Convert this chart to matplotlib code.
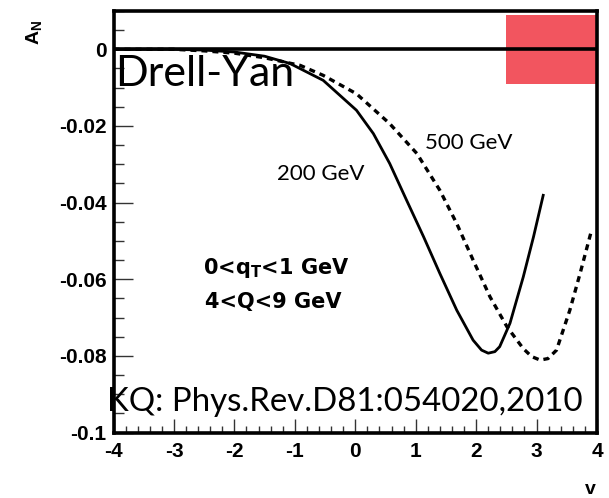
import matplotlib
matplotlib.use("Agg")
import matplotlib.pyplot as plt
from matplotlib.ticker import MultipleLocator
from matplotlib.patches import Rectangle

# A_N versus rapidity y for the two energies
v_200 = [-4.0, -3.0, -2.5, -2.0, -1.5, -1.08, -0.53, 0.02, 0.30, 0.57, 0.85, 1.13,
         1.40, 1.68, 1.95, 2.09, 2.20, 2.31, 2.39, 2.56, 2.78, 2.95, 3.11]
an_200 = [0.0, 0.0, -0.0002, -0.0007, -0.0018, -0.0037, -0.0081, -0.0159, -0.0220,
          -0.0298, -0.0394, -0.0489, -0.0585, -0.0681, -0.0759, -0.0785, -0.0793,
          -0.0789, -0.0776, -0.0715, -0.0594, -0.0489, -0.0381]

v_500 = [-4.0, -3.0, -2.5, -2.0, -1.5, -0.91, -0.53, 0.02, 0.57, 1.02, 1.40, 1.68,
         1.95, 2.23, 2.51, 2.78, 2.92, 3.06, 3.19, 3.33, 3.55, 3.72, 3.91]
an_500 = [0.0, 0.0, -0.0004, -0.0010, -0.0022, -0.0042, -0.0068, -0.0116, -0.0194,
          -0.0272, -0.0368, -0.0455, -0.0550, -0.0646, -0.0724, -0.0781, -0.0802,
          -0.0811, -0.0807, -0.0785, -0.0681, -0.0585, -0.0472]

x_ticks = [-4, -3, -2, -1, 0, 1, 2, 3, 4]
y_ticks = [0, -0.02, -0.04, -0.06, -0.08, -0.1]
y_labels = ["0", "-0.02", "-0.04", "-0.06", "-0.08", "-0.1"]

# measured region box
box_v = (2.5, 4.0)
box_an = (-0.009, 0.009)

fig = plt.figure(figsize=(6.09, 4.98), dpi=100)
ax = fig.add_axes([113.5 / 609, 1 - 432.5 / 498, (597 - 113.5) / 609, (432.5 - 11) / 498])
ax.set_xlim(-4, 4)
ax.set_ylim(-0.1, 0.01)

ax.add_patch(Rectangle((box_v[0], box_an[0]), box_v[1] - box_v[0], box_an[1] - box_an[0],
                       facecolor="#f2555f", edgecolor="none", zorder=1))
ax.axhline(0, color="black", lw=2.6, zorder=3)

ax.plot(v_200, an_200, color="black", lw=2.0, solid_joinstyle="round", zorder=4)
ax.plot(v_500, an_500, color="black", lw=2.4, linestyle=(0, (1.8, 1.5)), zorder=4)

for s in ax.spines.values():
    s.set_linewidth(2.6)

tick_font = dict(family="Liberation Sans", weight="bold", size=15)
ax.set_xticks(x_ticks)
ax.set_xticklabels([str(t) for t in x_ticks], **tick_font)
ax.set_yticks(y_ticks)
ax.set_yticklabels(y_labels, **tick_font)
ax.xaxis.set_minor_locator(MultipleLocator(0.2))
ax.yaxis.set_minor_locator(MultipleLocator(0.005))
ax.tick_params(which="both", direction="in", top=False, right=False, width=1.0, color="#333333")
ax.tick_params(axis="x", which="major", length=10, pad=7)
ax.tick_params(axis="x", which="minor", length=5)
ax.tick_params(axis="y", which="major", length=14, pad=5)
ax.tick_params(axis="y", which="minor", length=7)

fig.text(35 / 609, 1 - 32 / 498, r"A$_\mathregular{N}$", rotation=90, ha="center", va="center",
         fontsize=14, family="Liberation Sans", weight="bold")
fig.text(590 / 609, 1 - 489 / 498, "v", ha="center", va="center",
         fontsize=14, family="Liberation Sans", weight="bold")

ax.text(-3.98, -0.0095, "Drell-Yan", fontsize=31, family="Lato", ha="left", va="baseline", zorder=5)
ax.text(-4.1, -0.0945, "KQ: Phys.Rev.D81:054020,2010", fontsize=23.8, family="Lato",
        ha="left", va="baseline", zorder=5)
ax.text(1.15, -0.0245, "500 GeV", fontsize=16, family="Lato", ha="left", va="center")
ax.text(-1.3, -0.0326, "200 GeV", fontsize=16, family="Lato", ha="left", va="center")

cut_font = dict(fontsize=15, family="DejaVu Sans", weight="bold", ha="left", va="center")
ax.text(-2.52, -0.0570, r"0<q$_\mathregular{T}$<1 GeV", **cut_font)
ax.text(-2.48, -0.0660, "4<Q<9 GeV", **cut_font)

fig.savefig("out.png", dpi=100)
